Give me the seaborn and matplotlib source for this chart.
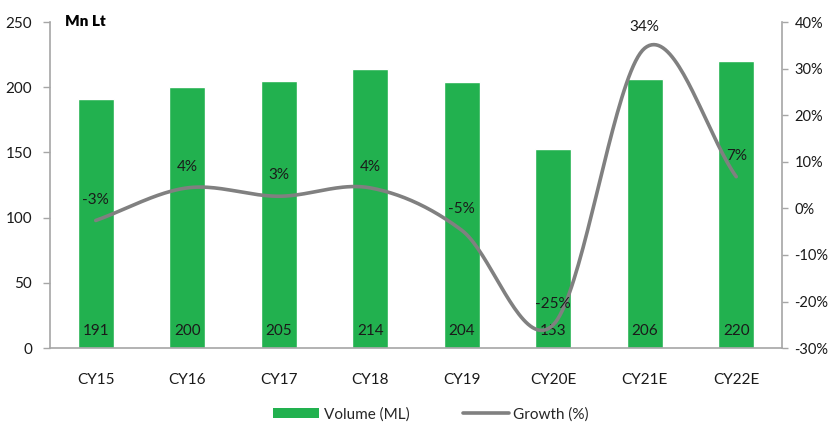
import numpy as np
import pandas as pd
import matplotlib
matplotlib.use("Agg")
import matplotlib.pyplot as plt
from matplotlib.patches import Patch
from matplotlib.lines import Line2D
import seaborn as sns

# Data
years = ["CY15", "CY16", "CY17", "CY18", "CY19", "CY20E", "CY21E", "CY22E"]
volume = [191, 200, 205, 214, 204, 153, 206, 220]          # Mn Lt
growth = [-2.6, 4.4, 2.6, 4.4, -4.7, -25.0, 34.4, 6.8]     # % YoY

GREEN = "#22B14F"
GREY_LINE = "#808080"
SPINE = "#A6A6A6"
TXT = "#1a1a1a"

sns.set_theme(style="white")
plt.rcParams["font.family"] = ["Lato", "DejaVu Sans"]

fig = plt.figure(figsize=(8.29, 4.25), dpi=100)
ax = fig.add_axes([0.0603, 0.181, 0.883, 0.767])

df = pd.DataFrame({"year": years, "volume": volume, "growth": growth})
sns.barplot(data=df, x="year", y="volume", color=GREEN, saturation=1,
            width=0.39, ax=ax, zorder=2)

ax.set_ylim(0, 250)
ax.set_xlim(-0.5, len(years) - 0.5)
ax.set_yticks(np.arange(0, 251, 50))
ax.set_xlabel("")
ax.set_ylabel("")
ax.set_xticks(np.arange(len(years)))
ax.set_xticklabels(years)

# category boundary ticks on x-axis
ax.set_xticks(np.arange(-0.5, len(years), 1.0), minor=True)
ax.tick_params(axis="x", which="major", length=0, pad=18, labelsize=11, colors=TXT)
ax.tick_params(axis="x", which="minor", length=5, width=1, color=SPINE, direction="out")
ax.tick_params(axis="y", length=5, width=1, color=SPINE, direction="out",
               pad=8, labelsize=11, labelcolor=TXT, left=True)

for s in ["top", "right"]:
    ax.spines[s].set_visible(False)
for s in ["left", "bottom"]:
    ax.spines[s].set_color(SPINE)
    ax.spines[s].set_linewidth(1.2)

# volume labels near the bar base
for i, v in enumerate(volume):
    ax.annotate(f"{v}", xy=(i, 0), xytext=(0, 12), textcoords="offset points",
                ha="center", va="center", fontsize=11, color=TXT, zorder=5)

# growth on secondary axis
ax2 = ax.twinx()
ax2.set_ylim(-30, 40)
ax2.set_yticks(np.arange(-30, 41, 10))
ax2.yaxis.set_major_formatter(matplotlib.ticker.FuncFormatter(lambda v, p: f"{v:.0f}%"))
ax2.tick_params(axis="y", length=4, width=1, color=SPINE, direction="out",
                pad=5, labelsize=10.5, labelcolor=TXT, right=True)
for s in ["top", "left", "bottom"]:
    ax2.spines[s].set_visible(False)
ax2.spines["right"].set_color(SPINE)
ax2.spines["right"].set_linewidth(1.2)
ax2.grid(False)
ax.grid(False)


def catmull_rom(xs, ys, n=40):
    xs = np.asarray(xs, float)
    ys = np.asarray(ys, float)
    px = np.concatenate([[2 * xs[0] - xs[1]], xs, [2 * xs[-1] - xs[-2]]])
    py = np.concatenate([[2 * ys[0] - ys[1]], ys, [2 * ys[-1] - ys[-2]]])
    ox, oy = [], []
    for k in range(1, len(px) - 2):
        t = np.linspace(0, 1, n, endpoint=False)
        t2, t3 = t * t, t * t * t
        for arr, out in ((px, ox), (py, oy)):
            p0, p1, p2, p3 = arr[k - 1], arr[k], arr[k + 1], arr[k + 2]
            out.extend(0.5 * ((2 * p1) + (-p0 + p2) * t +
                              (2 * p0 - 5 * p1 + 4 * p2 - p3) * t2 +
                              (-p0 + 3 * p1 - 3 * p2 + p3) * t3))
    ox.append(xs[-1])
    oy.append(ys[-1])
    return np.array(ox), np.array(oy)


sx, sy = catmull_rom(np.arange(len(years)), growth)
sns.lineplot(x=sx, y=sy, sort=False, estimator=None, color=GREY_LINE,
             linewidth=2.6, ax=ax2, zorder=3, legend=False)

for i, g in enumerate(growth):
    ax2.annotate(f"{g:.0f}%", xy=(i, g), xytext=(0, 15), textcoords="offset points",
                 ha="center", va="center", fontsize=11, color=TXT)

fig.text(65 / 829, 1 - 21 / 425, "Mn Lt", fontsize=11, fontweight="heavy",
         ha="left", va="center", color="black")

handles = [Patch(facecolor=GREEN, edgecolor="none", label="Volume (ML)"),
           Line2D([0], [0], color=GREY_LINE, linewidth=2.6, label="Growth (%)")]
fig.legend(handles=handles, loc="center", bbox_to_anchor=(0.52, 0.025), ncol=2,
           frameon=False, fontsize=11, handlelength=3.0, handleheight=0.6,
           columnspacing=3.5, handletextpad=0.3)

fig.savefig("out.png", dpi=100)
